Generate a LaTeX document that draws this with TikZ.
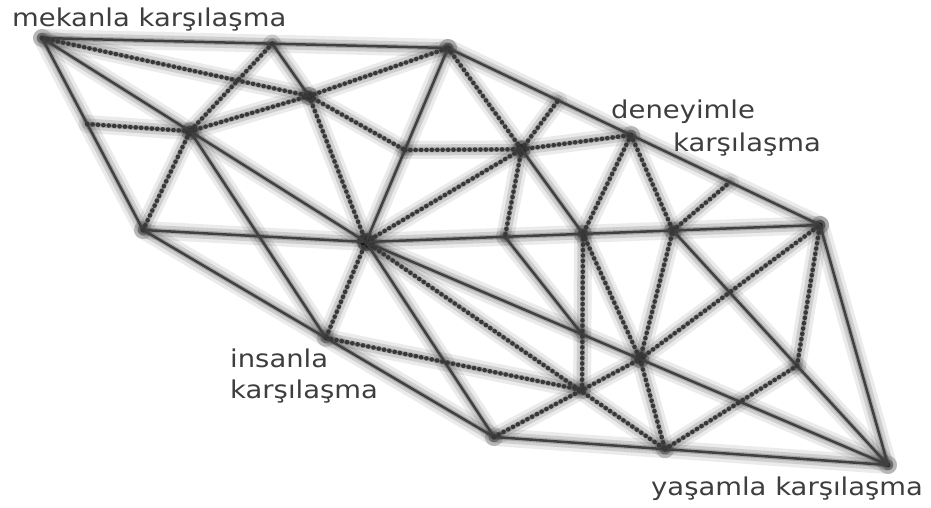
\documentclass[tikz,border=0pt]{standalone}
\usepackage{fontspec}
\setmainfont{DejaVu Sans}
\usepackage{graphicx}
\usetikzlibrary{calc}
\definecolor{ink}{HTML}{404040}
\definecolor{dotink}{HTML}{383838}
\definecolor{txt}{HTML}{3E3E3E}
\begin{document}
\begin{tikzpicture}[x=1pt,y=-1pt,
  solidline/.style={draw=ink, line width=2.5pt, line cap=round},
  dotline/.style={draw=dotink, line width=4.6pt, line cap=round, dash pattern=on 0pt off 5.4pt},
  dotunder/.style={draw=dotink, line width=1.6pt, opacity=0.45},
  shadowA/.style={draw=black, line width=18pt, opacity=0.08, line cap=round, shift={(2,10)}},
  shadowB/.style={draw=black, line width=11pt, opacity=0.12, line cap=round, shift={(2,8)}},
  shadowC/.style={draw=black, line width=5pt, opacity=0.18, line cap=round, shift={(2,6)}},
  lbl/.style={text=txt, font=\fontsize{24.5}{26}\selectfont, inner sep=0pt, anchor=base west}]
\useasboundingbox (0,0) rectangle (931,508);
\fill[white] (0,0) rectangle (931,508);
% main vertices
\coordinate (A) at (42,38);
\coordinate (B) at (448,48);
\coordinate (C) at (820,225);
\coordinate (D) at (888,465);
\coordinate (E) at (494,437);
\coordinate (F) at (143,230);
\coordinate (M) at (366,242);
% points on lines
\coordinate (G) at ($(A)!0.457!(M)$);
\coordinate (I) at ($(F)!0.521!(E)$);
\coordinate (X) at ($(B)!0.526!(M)$);
\coordinate (J) at ($(M)!0.478!(C)$);
\coordinate (R) at ($(M)!0.676!(C)$);
\coordinate (U) at ($(M)!0.306!(C)$);
\coordinate (W) at ($(M)!0.414!(D)$);
\coordinate (N) at ($(M)!0.525!(D)$);
\coordinate (O) at ($(E)!0.434!(D)$);
\coordinate (Y) at ($(A)!0.567!(B)$);
\coordinate (V) at ($(B)!0.296!(C)$);
\coordinate (T) at ($(B)!0.758!(C)$);
\coordinate (L) at ($(B)!0.492!(C)$);
\coordinate (Z) at ($(A)!0.448!(F)$);
\coordinate (K) at ($(B)!0.545!(J)$);
\coordinate (H) at (309,96);
\coordinate (P) at ($(E)!0.603!(N)$);
\coordinate (Q) at ($(R)!0.577!(D)$);
\def\solidedges{A/B,B/C,C/D,D/E,E/F,F/A,F/M,M/C,A/M,B/M,G/I,M/E,M/D,K/J,U/W,Y/H,R/D}
\def\dotedges{A/H,G/H,H/B,H/X,X/K,K/L,Y/G,Z/G,F/G,H/M,M/K,B/K,K/V,K/U,L/J,L/R,R/T,J/N,J/P,M/O,M/I,I/P,E/N,N/C,N/R,N/O,O/Q,Q/C}
% shadows
\foreach \sty in {shadowA,shadowB,shadowC}{
  \foreach \p/\q in \solidedges { \draw[\sty] (\p) -- (\q); }
  \foreach \p/\q in \dotedges { \draw[\sty] (\p) -- (\q); }
}
% lines
\foreach \p/\q in \solidedges { \draw[solidline] (\p) -- (\q); }
\foreach \p/\q in \dotedges { \draw[dotunder] (\p) -- (\q); \draw[dotline] (\p) -- (\q); }
% labels
\node[lbl] (t1) at (12,27) {\scalebox{1.12}[1]{mekanla karşılaşma}};
\node[lbl] (t2) at (611,119) {\scalebox{1.12}[1]{deneyimle}};
\node[lbl] (t3) at (673,151) {\scalebox{1.12}[1]{karşılaşma}};
\node[lbl] (t4) at (230,367) {\scalebox{1.12}[1]{insanla}};
\node[lbl] (t5) at (230,398) {\scalebox{1.12}[1]{karşılaşma}};
\node[lbl] (t6) at (651,495) {\scalebox{1.12}[1]{yaşamla karşılaşma}};
\end{tikzpicture}
\end{document}
